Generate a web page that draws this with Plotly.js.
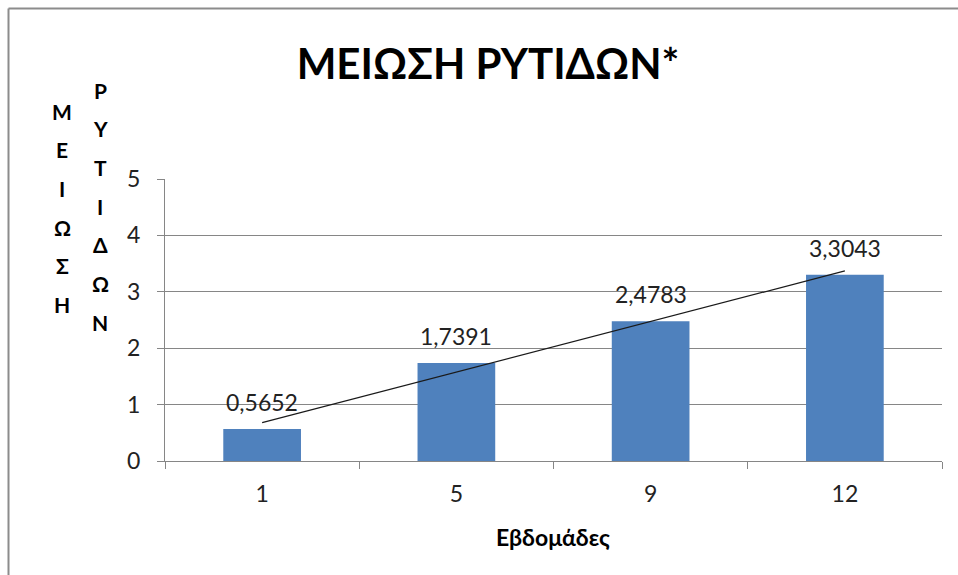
<!DOCTYPE html>
<html>
<head>
<meta charset="utf-8">
<script src="https://cdn.plot.ly/plotly-3.0.1.min.js"></script>
<style>html,body{margin:0;padding:0;background:#fff;}#chart{width:958px;height:575px;}</style>
</head>
<body>
<div id="chart"></div>
<script>
// Data
const weeks = ["1", "5", "9", "12"];
const reduction = [0.5652, 1.7391, 2.4783, 3.3043];
const trendX = ["1", "12"];
const trendY = [0.68, 3.37];
const chartTitle = "ΜΕΙΩΣΗ ΡΥΤΙΔΩΝ*";
const xTitle = "Εβδομάδες";
const yTitleColumns = ["ΜΕΙΩΣΗ", "ΡΥΤΙΔΩΝ"];
const yTicks = [0, 1, 2, 3, 4, 5];

const W = 958, H = 575;
const L = 165, R = 16, T = 179, B = 114;
const pw = W - L - R, ph = H - T - B;
const px2x = p => (p - L) / pw;
const py2y = p => (H - B - p) / ph;

const FONT = "Lato, 'Open Sans', sans-serif";

const bars = {
  type: "bar",
  x: weeks,
  y: reduction,
  marker: {color: "#4F81BD"},
  width: 0.4,
  hoverinfo: "none"
};
const trend = {
  type: "scatter",
  mode: "lines",
  x: trendX,
  y: trendY,
  line: {color: "#1a1a1a", width: 1.2},
  hoverinfo: "none"
};

const annotations = reduction.map((v, i) => ({
  x: i, y: v, xref: "x", yref: "y",
  text: String(v).replace(".", ","),
  showarrow: false, yshift: 27,
  font: {family: FONT, size: 23, color: "#222"}
}));

// Stacked vertical y-axis title letters
const colX = [62, 100];
const colTop = [111, 90];
const step = 38.7;
yTitleColumns.forEach((word, c) => {
  Array.from(word).forEach((ch, k) => {
    annotations.push({
      xref: "paper", yref: "paper",
      x: px2x(colX[c]), y: py2y(colTop[c] + k * step),
      xanchor: "center", yanchor: "middle",
      text: ch, showarrow: false,
      font: {family: FONT, size: 21, color: "#000", weight: "bold"}
    });
  });
});

annotations.push({
  xref: "paper", yref: "paper",
  x: px2x(553), y: py2y(537), xanchor: "center", yanchor: "middle",
  text: xTitle, showarrow: false,
  font: {family: FONT, size: 23, color: "#000", weight: "bold"}
});

const layout = {
  width: W, height: H,
  margin: {l: L, r: R, t: T, b: B, pad: 0},
  paper_bgcolor: "#fff", plot_bgcolor: "#fff",
  showlegend: false,
  separators: ", ",
  title: {
    text: chartTitle,
    x: 488 / W, xanchor: "center",
    y: 1 - 64 / H, yanchor: "middle",
    font: {family: FONT, size: 42, color: "#000", weight: "bold"}
  },
  xaxis: {
    type: "category",
    range: [-0.5, 3.5],
    tickson: "boundaries",
    ticks: "outside", ticklen: 7, tickcolor: "#868686", tickwidth: 1,
    showline: true, linecolor: "#868686", linewidth: 1,
    showgrid: false, zeroline: false,
    ticklabelstandoff: 12,
    tickfont: {family: FONT, size: 23, color: "#222"}
  },
  yaxis: {
    range: [0, 5],
    tickvals: yTicks,
    ticks: "outside", ticklen: 7, tickcolor: "#868686", tickwidth: 1,
    showline: true, linecolor: "#868686", linewidth: 1,
    showgrid: true, gridcolor: "#868686", gridwidth: 1,
    zeroline: false,
    ticklabelstandoff: 12,
    tickfont: {family: FONT, size: 23, color: "#222"}
  },
  annotations: annotations,
  shapes: [
    {type: "line", xref: "paper", yref: "paper",
     x0: px2x(8.5), x1: px2x(8.5), y0: py2y(8.5), y1: py2y(600),
     line: {color: "#8c8c8c", width: 2}},
    {type: "line", xref: "paper", yref: "paper",
     x0: px2x(8.5), x1: px2x(990), y0: py2y(8.5), y1: py2y(8.5),
     line: {color: "#8c8c8c", width: 2}}
  ]
};

Plotly.newPlot("chart", [bars, trend], layout, {staticPlot: true, displayModeBar: false});
</script>
</body>
</html>
